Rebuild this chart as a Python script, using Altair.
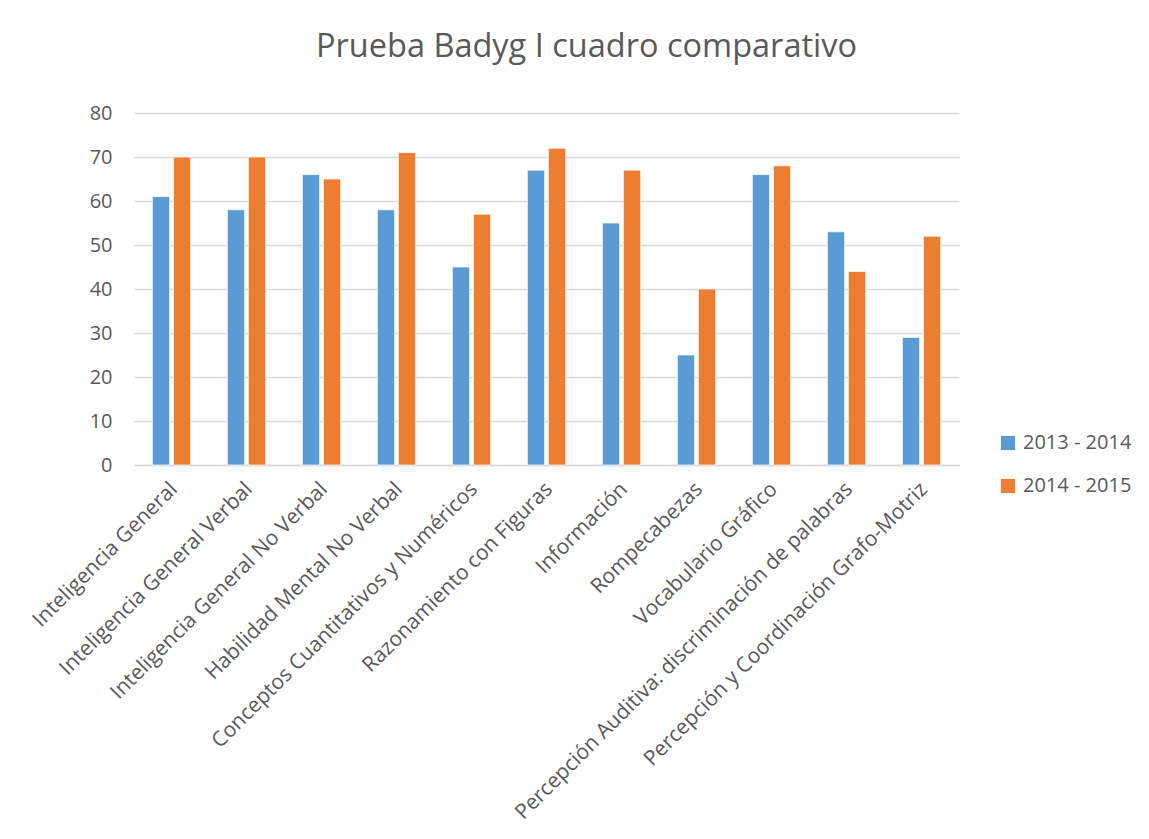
import altair as alt
import pandas as pd

categories = [
    "Inteligencia General",
    "Inteligencia General Verbal",
    "Inteligencia General No Verbal",
    "Habilidad Mental No Verbal",
    "Conceptos Cuantitativos y Numéricos",
    "Razonamiento con Figuras",
    "Información",
    "Rompecabezas",
    "Vocabulario Gráfico",
    "Percepción Auditiva: discriminación de palabras",
    "Percepción y Coordinación Grafo-Motriz",
]
series_names = ["2013 - 2014", "2014 - 2015"]
values_2013 = [61, 58, 66, 58, 45, 67, 55, 25, 66, 53, 29]
values_2014 = [70, 70, 65, 71, 57, 72, 67, 40, 68, 44, 52]
colors = ["#5B9BD5", "#ED7D31"]

rows = []
for c, a, b in zip(categories, values_2013, values_2014):
    rows.append({"cat": c, "serie": series_names[0], "valor": a})
    rows.append({"cat": c, "serie": series_names[1], "valor": b})
df = pd.DataFrame(rows)

FONT = "Open Sans"
GRAY = "#595959"

chart = alt.Chart(df).mark_bar(stroke="white", strokeWidth=0.7).encode(
    x=alt.X("cat:N", sort=categories, title=None,
            scale=alt.Scale(paddingInner=0.49, paddingOuter=0.245),
            axis=alt.Axis(labelAngle=-45, labelFontSize=21, labelColor=GRAY,
                          labelFont=FONT, ticks=False, domainColor="#D9D9D9",
                          domainWidth=1.5, labelPadding=13, labelOffset=-5,
                          labelLimit=700)),
    xOffset=alt.XOffset("serie:N", sort=series_names,
                        scale=alt.Scale(paddingInner=0.18)),
    y=alt.Y("valor:Q", title=None,
            scale=alt.Scale(domain=[0, 80]),
            axis=alt.Axis(values=list(range(0, 81, 10)), labelFontSize=20,
                          labelColor=GRAY, labelFont=FONT, ticks=False,
                          domain=False, gridColor="#D9D9D9", gridWidth=1.5,
                          labelPadding=22)),
    color=alt.Color("serie:N", sort=series_names,
                    scale=alt.Scale(domain=series_names, range=colors),
                    legend=alt.Legend(title=None, orient="none", legendX=864,
                                      legendY=320, symbolType="square",
                                      symbolSize=200, symbolStrokeWidth=0,
                                      labelFontSize=20, labelColor=GRAY,
                                      labelFont=FONT, rowPadding=23,
                                      labelOffset=5)),
).properties(
    width=825,
    height=352,
    title=alt.TitleParams("Prueba Badyg I cuadro comparativo", fontSize=32.5,
                          font=FONT, color=GRAY, fontWeight="normal",
                          anchor="middle", dx=40, offset=40),
    autosize=alt.AutoSizeParams(type="none"),
    padding={"left": 126, "top": 105, "right": 181, "bottom": 365},
).configure(background="white").configure_view(stroke=None)

chart.save("out.html", embed_options={"renderer": "svg", "actions": False})
